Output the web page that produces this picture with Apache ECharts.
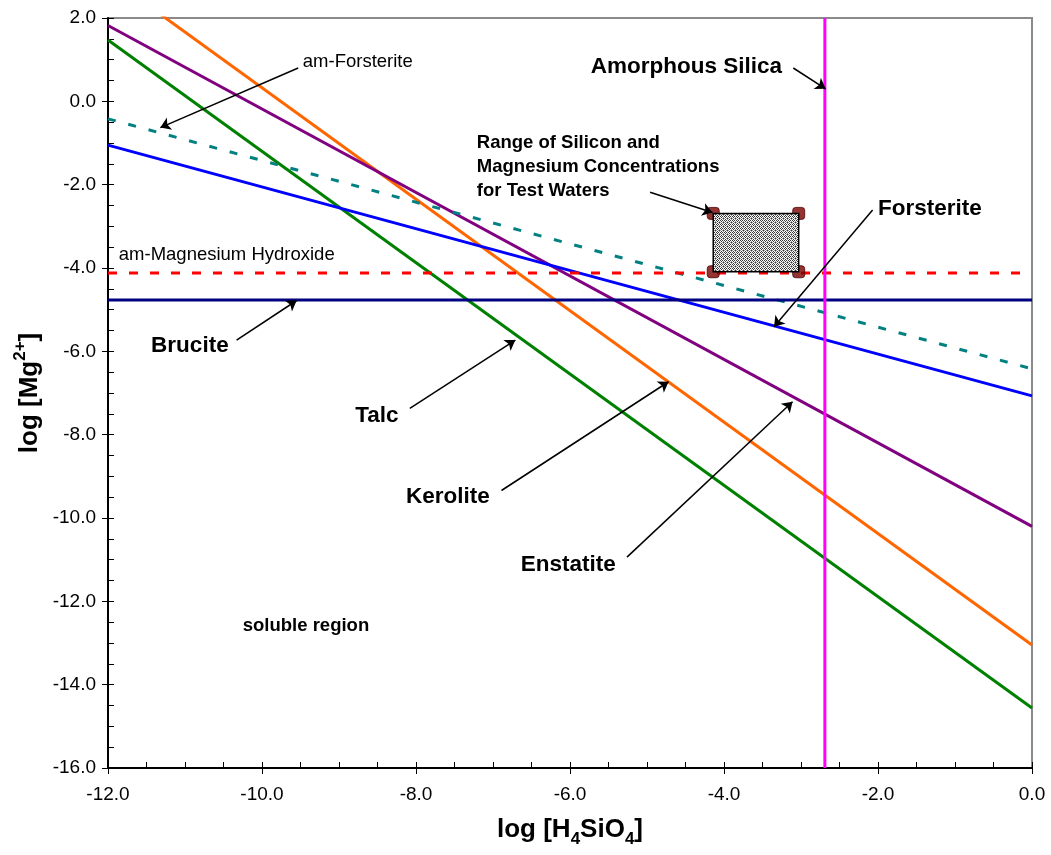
<!DOCTYPE html>
<html>
<head>
<meta charset="utf-8">
<script src="https://cdn.jsdelivr.net/npm/echarts@6/dist/echarts.min.js"></script>
<style>
  html, body { margin: 0; padding: 0; background: #fff; }
  #chart { width: 1051px; height: 855px; }
</style>
</head>
<body>
<div id="chart"></div>
<script>
// log [H4SiO4] range covered by the stability lines
const siRange = [-12, 0];

// log [Mg2+] at the two ends of each stability line
const talc = [1.47, -14.56];
const kerolite = [3.0, -13.05];
const enstatite = [1.82, -10.2];
const forsterite = [-1.05, -7.07];
const amForsterite = [-0.42, -6.42];

// horizontal limits (log [Mg2+])
const amMgHydroxide = -4.12;
const brucite = -4.77;

// vertical limit (log [H4SiO4])
const amorphousSilica = -2.69;

// range of test waters
const testSi = [-4.14, -3.03];
const testMg = [-4.09, -2.69];

// axis ticks
const xTicks = [-12, -10, -8, -6, -4, -2, 0];
const yTicks = [2, 0, -2, -4, -6, -8, -10, -12, -14, -16];

// annotation labels: text, anchor [log Si, log Mg]
const labels = [
  { text: 'am-Forsterite', at: [-9.47, 0.94], bold: false, size: 18.5 },
  { text: 'Amorphous Silica', at: [-5.73, 0.82], bold: true, size: 22.5 },
  { text: 'Range of Silicon and\nMagnesium Concentrations\nfor Test Waters', at: [-7.21, -1.58], bold: true, size: 18.5, lh: 24 },
  { text: 'Forsterite', at: [-2.0, -2.58], bold: true, size: 22.5 },
  { text: 'am-Magnesium Hydroxide', at: [-11.86, -3.69], bold: false, size: 18.5 },
  { text: 'Brucite', at: [-11.44, -5.87], bold: true, size: 22.5 },
  { text: 'Talc', at: [-8.79, -7.55], bold: true, size: 22.5 },
  { text: 'Kerolite', at: [-8.13, -9.50], bold: true, size: 22.5 },
  { text: 'Enstatite', at: [-6.64, -11.13], bold: true, size: 22.5 },
  { text: 'soluble region', at: [-10.25, -12.59], bold: true, size: 18.5 }
];

// annotation arrows: tail -> head
const arrows = [
  [[-9.53, 0.80], [-11.32, -0.63]],
  [[-3.10, 0.80], [-2.68, 0.30]],
  [[-4.96, -2.18], [-4.15, -2.67]],
  [[-2.07, -2.61], [-3.35, -5.41]],
  [[-10.33, -5.73], [-9.55, -4.78]],
  [[-8.08, -7.37], [-6.71, -5.73]],
  [[-6.89, -9.34], [-4.72, -6.73]],
  [[-5.26, -10.94], [-3.11, -7.21]]
];

const FONT = '"Liberation Sans", Arial, sans-serif';
const lineSeries = (name, ends, color, dash) => ({
  name, type: 'line', xAxisIndex: 0, yAxisIndex: 0,
  data: [[siRange[0], ends[0]], [siRange[1], ends[1]]],
  symbol: 'none', clip: true, silent: true, z: 3,
  lineStyle: { color, width: 3, type: dash || 'solid' }
});

// stippled fill for the test-water box
const pat = document.createElement('canvas');
pat.width = 4; pat.height = 4;
(function () {
  const c = pat.getContext('2d');
  c.fillStyle = '#ffffff'; c.fillRect(0, 0, 4, 4);
  c.fillStyle = '#333333';
  [[0, 0], [2, 0], [1, 1], [3, 2], [1, 3]].forEach(p => c.fillRect(p[0], p[1], 1, 1));
  c.fillStyle = '#9a9a9a';
  [[3, 1], [0, 2], [2, 2], [3, 3]].forEach(p => c.fillRect(p[0], p[1], 1, 1));
})();

const chart = echarts.init(document.getElementById('chart'));
const fmt = v => v.toFixed(1);

const axisCommon = { type: 'value', splitLine: { show: false } };

chart.setOption({
  animation: false,
  backgroundColor: '#fff',
  grid: { left: 108, right: 19, top: 18, bottom: 87, containLabel: false, outerBoundsMode: 'none',
    show: true, borderColor: '#8a8a8a', borderWidth: 2 },
  xAxis: [
    Object.assign({}, axisCommon, {
      min: siRange[0], max: siRange[1], interval: 2, position: 'bottom',
      axisLine: { show: true, onZero: false, lineStyle: { color: '#000', width: 2 } },
      axisTick: { show: true, inside: true, length: 6, lineStyle: { color: '#000', width: 1 } },
      minorTick: { show: true, splitNumber: 4, length: 6, lineStyle: { color: '#000', width: 1 } },
      axisLabel: { margin: 17, color: '#000', fontFamily: FONT, fontSize: 19, formatter: fmt,
        customValues: xTicks },
      name: 'log [H{sub|4}SiO{sub|4}]', nameLocation: 'middle', nameGap: 44, nameMoveOverlap: false,
      nameTextStyle: { color: '#000', fontFamily: FONT, fontWeight: 'bold', fontSize: 26, lineHeight: 36,
        rich: { sub: { fontFamily: FONT, fontWeight: 'bold', fontSize: 17, verticalAlign: 'bottom', lineHeight: 17, color: '#000' } } }
    }),
    Object.assign({}, axisCommon, {
      min: siRange[0], max: siRange[1], interval: 2, position: 'bottom',
      axisLine: { show: false, onZero: false },
      axisTick: { show: true, inside: false, length: 6, lineStyle: { color: '#000', width: 1 } },
      axisLabel: { show: false }
    })
  ],
  yAxis: [
    Object.assign({}, axisCommon, {
      min: -16, max: 2, interval: 2, position: 'left',
      axisLine: { show: true, onZero: false, lineStyle: { color: '#000', width: 2 } },
      axisTick: { show: true, inside: true, length: 6, lineStyle: { color: '#000', width: 1 } },
      minorTick: { show: true, splitNumber: 4, length: 6, lineStyle: { color: '#000', width: 1 } },
      axisLabel: { margin: 12, color: '#000', fontFamily: FONT, fontSize: 19, formatter: fmt,
        customValues: yTicks },
      name: 'log [Mg{sup|2+}]', nameLocation: 'middle', nameGap: 60, nameRotate: 90, nameMoveOverlap: false,
      nameTextStyle: { color: '#000', fontFamily: FONT, fontWeight: 'bold', fontSize: 26, lineHeight: 36,
        rich: { sup: { fontFamily: FONT, fontWeight: 'bold', fontSize: 17, verticalAlign: 'top', lineHeight: 17, color: '#000' } } }
    }),
    Object.assign({}, axisCommon, {
      min: -16, max: 2, interval: 2, position: 'left',
      axisLine: { show: false, onZero: false },
      axisTick: { show: true, inside: false, length: 6, lineStyle: { color: '#000', width: 1 } },
      axisLabel: { show: false }
    })
  ],
  series: [
    lineSeries('Talc', talc, '#008000'),
    lineSeries('Kerolite', kerolite, '#ff6600'),
    lineSeries('Enstatite', enstatite, '#800080'),
    lineSeries('Forsterite', forsterite, '#0000ff'),
    lineSeries('am-Forsterite', amForsterite, '#008080', [8, 13]),
    lineSeries('am-Magnesium Hydroxide', [amMgHydroxide, amMgHydroxide], '#ff0000', [9, 12]),
    lineSeries('Brucite', [brucite, brucite], '#000080'),
    {
      name: 'Amorphous Silica', type: 'line', symbol: 'none', silent: true, z: 4,
      data: [[amorphousSilica, -16], [amorphousSilica, 2]],
      lineStyle: { color: '#ff00ff', width: 3 }
    },
    {
      name: 'test-corners', type: 'scatter', symbol: 'roundRect', symbolSize: 12, z: 5, silent: true,
      itemStyle: { color: '#7a0000', borderColor: '#4a0000', borderWidth: 1 },
      data: [[testSi[0], testMg[0]], [testSi[1], testMg[0]], [testSi[0], testMg[1]], [testSi[1], testMg[1]]]
    },
    {
      name: 'test-waters', type: 'custom', z: 6, silent: true,
      data: [[testSi[0], testMg[1], testSi[1], testMg[0]]],
      renderItem: function (params, api) {
        const a = api.coord([api.value(0), api.value(1)]);
        const b = api.coord([api.value(2), api.value(3)]);
        return {
          type: 'rect',
          shape: { x: a[0], y: a[1], width: b[0] - a[0], height: b[1] - a[1] },
          style: { fill: { image: pat, repeat: 'repeat' }, stroke: '#000', lineWidth: 1.5 }
        };
      }
    },
    {
      name: 'arrows', type: 'lines', coordinateSystem: 'cartesian2d', z: 7, silent: true,
      symbol: ['none', 'arrow'], symbolSize: 10,
      lineStyle: { color: '#000', width: 1.5, opacity: 1 },
      data: arrows.map(a => ({ coords: a }))
    }
  ]
});

// place annotation text at their data anchors
chart.setOption({
  graphic: labels.map(l => {
    const p = chart.convertToPixel({ gridIndex: 0 }, l.at);
    return {
      type: 'text', x: p[0], y: p[1], z: 100, silent: true,
      style: {
        text: l.text, fill: '#000', font: (l.bold ? 'bold ' : '') + l.size + 'px ' + FONT,
        align: 'left', verticalAlign: 'middle', lineHeight: l.lh || l.size + 4
      }
    };
  })
});
</script>
</body>
</html>
